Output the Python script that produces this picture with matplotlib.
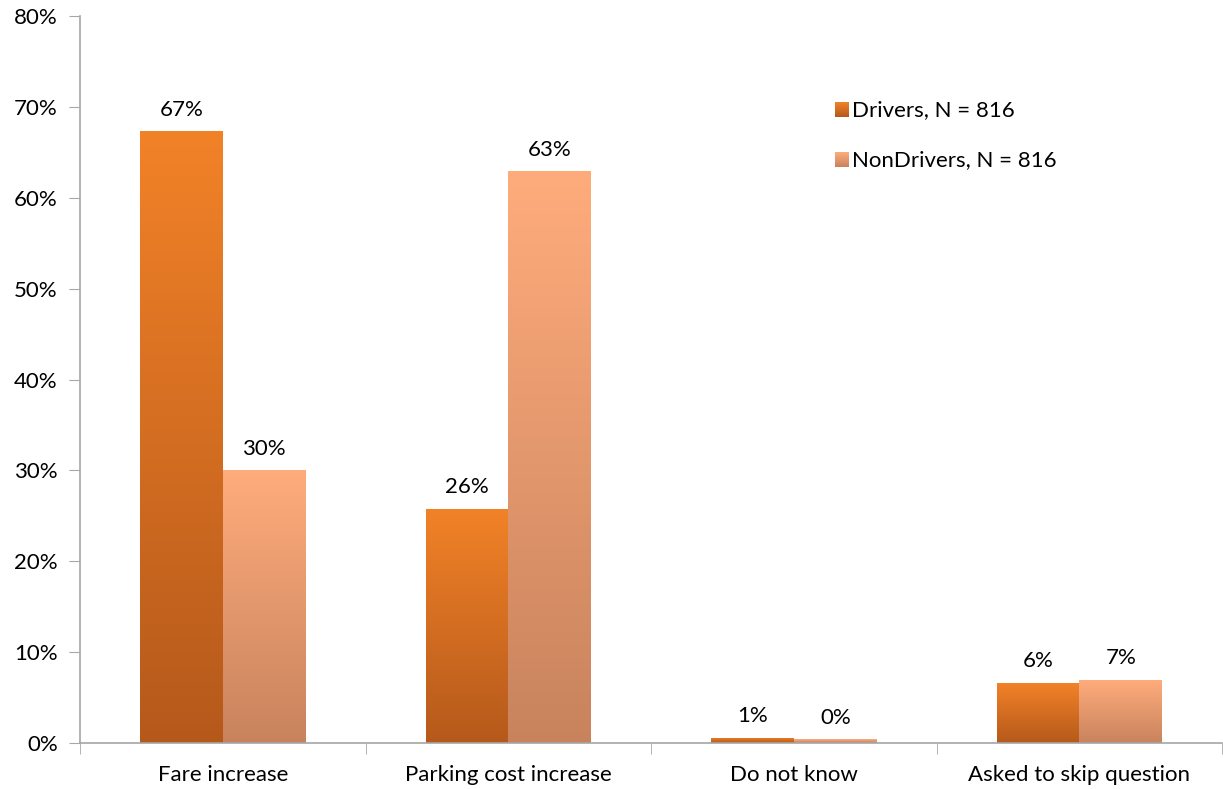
import matplotlib
matplotlib.use("Agg")
import matplotlib.pyplot as plt
import numpy as np
from matplotlib.colors import LinearSegmentedColormap
from matplotlib.patches import Rectangle

plt.rcParams["font.family"] = ["Lato", "DejaVu Sans"]

categories = ["Fare increase", "Parking cost increase", "Do not know", "Asked to skip question"]
drivers = [67.3, 25.8, 0.6, 6.6]
nondrivers = [30.0, 62.9, 0.4, 6.9]
drivers_labels = ["67%", "26%", "1%", "6%"]
nondrivers_labels = ["30%", "63%", "0%", "7%"]
series_names = ["Drivers, N = 816", "NonDrivers, N = 816"]

# bottom colour, top colour
drivers_grad = ["#B5591B", "#F28228"]
nondrivers_grad = ["#C8835D", "#FFAC7C"]

FS = 16

fig = plt.figure(figsize=(12.23, 7.89), dpi=100)
ax = fig.add_axes([0.0654, 0.0583, 0.934, 0.9214])

x = np.arange(len(categories))
w = 0.29
ymax = 80


def grad_bars(xs, heights, colors):
    cmap = LinearSegmentedColormap.from_list("g", colors)
    grad = np.linspace(0, 1, 256).reshape(-1, 1)
    for xc, h in zip(xs, heights):
        rect = Rectangle((xc - w / 2, 0), w, h, facecolor="none", edgecolor="none")
        ax.add_patch(rect)
        im = ax.imshow(grad, cmap=cmap, origin="lower", aspect="auto",
                       extent=(xc - w / 2, xc + w / 2, 0, h), zorder=2)
        im.set_clip_path(rect)


grad_bars(x - w / 2, drivers, drivers_grad)
grad_bars(x + w / 2, nondrivers, nondrivers_grad)

for xc, h, lab in zip(x - w / 2, drivers, drivers_labels):
    ax.text(xc, h + 1.3, lab, ha="center", va="bottom", fontsize=FS)
for xc, h, lab in zip(x + w / 2, nondrivers, nondrivers_labels):
    ax.text(xc, h + 1.3, lab, ha="center", va="bottom", fontsize=FS)

ax.set_xlim(-0.5, len(categories) - 0.5)
ax.set_ylim(0, ymax)
ax.set_yticks(np.arange(0, 81, 10))
ax.set_yticklabels([f"{v}%" for v in range(0, 81, 10)], fontsize=FS)
ax.set_xticks(x)
ax.set_xticklabels(categories, fontsize=FS)
ax.set_xticks(np.arange(-0.5, len(categories), 1), minor=True)
ax.tick_params(axis="x", which="major", length=0, pad=16)
ax.tick_params(axis="x", which="minor", length=8, color="#A6A6A6", direction="out")
ax.tick_params(axis="y", length=8, color="#A6A6A6", direction="out", pad=8)

for s in ["top", "right"]:
    ax.spines[s].set_visible(False)
for s in ["left", "bottom"]:
    ax.spines[s].set_color("#A6A6A6")
    ax.spines[s].set_linewidth(1.2)

# legend with gradient squares
leg_y = [69.66, 64.15]
for yy, cols, name in zip(leg_y, [drivers_grad, nondrivers_grad], series_names):
    cmap = LinearSegmentedColormap.from_list("g", cols)
    grad = np.linspace(0, 1, 64).reshape(-1, 1)
    x0, x1 = 2.144, 2.193
    ax.imshow(grad, cmap=cmap, origin="lower", aspect="auto",
              extent=(x0, x1, yy - 0.8, yy + 0.8), zorder=3)
    ax.text(x1 + 0.012, yy, name, ha="left", va="center", fontsize=FS)

ax.set_xlim(-0.5, len(categories) - 0.5)
ax.set_ylim(0, ymax)

fig.savefig("out.png", dpi=100)
